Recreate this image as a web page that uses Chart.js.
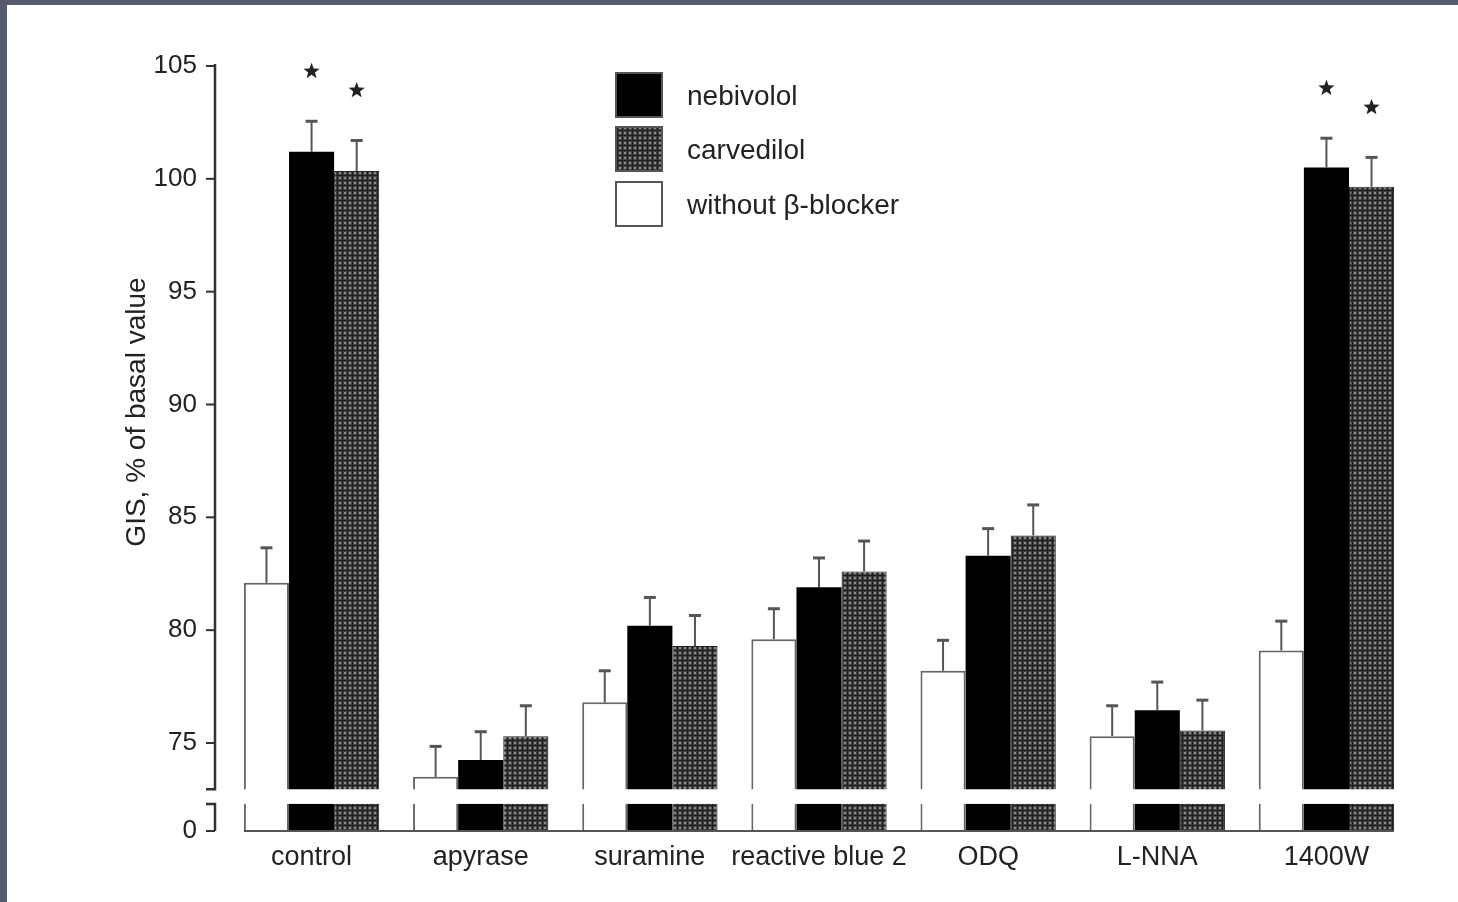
<!DOCTYPE html>
<html>
<head>
<meta charset="utf-8">
<script src="https://cdn.jsdelivr.net/npm/chart.js@4.4.1/dist/chart.umd.min.js"></script>
<style>
  html, body { margin: 0; padding: 0; background: #575a6b; overflow: hidden; }
  #wrap { position: absolute; left: 7px; top: 5px; width: 1451px; height: 897px; background: #fff; }
</style>
</head>
<body>
<div id="wrap"><canvas id="chart"></canvas></div>
<script>
const categories = ['control', 'apyrase', 'suramine', 'reactive blue 2', 'ODQ', 'L-NNA', '1400W'];

const withoutBB    = [82.1, 73.5, 76.8, 79.6, 78.2, 75.3, 79.1];
const withoutErr   = [1.55, 1.35, 1.4, 1.35, 1.35, 1.35, 1.3];
const nebivolol    = [101.2, 74.25, 80.2, 81.9, 83.3, 76.45, 100.5];
const nebivololErr = [1.35, 1.25, 1.25, 1.3, 1.2, 1.25, 1.3];
const carvedilol   = [100.35, 75.3, 79.3, 82.6, 84.2, 75.55, 99.65];
const carvedilolErr = [1.35, 1.35, 1.35, 1.35, 1.35, 1.35, 1.3];

// significance stars (vs. without beta-blocker)
const withoutSig    = [false, false, false, false, false, false, false];
const nebivololSig  = [true, false, false, false, false, false, true];
const carvedilolSig = [true, false, false, false, false, false, true];

const yTicks = [0, 75, 80, 85, 90, 95, 100, 105];

// broken axis: "0" is drawn at AXIS_ZERO, gap between BREAK_LOW and BREAK_HIGH
const AXIS_ZERO = 71.1;
const BREAK_LOW = 72.3;
const BREAK_HIGH = 72.95;

const FONT = 'Liberation Sans, Arial, sans-serif';
const TEXT = '#222';

// dotted fill for carvedilol
const tile = document.createElement('canvas');
tile.width = 5; tile.height = 5;
const tctx = tile.getContext('2d');
tctx.fillStyle = '#444';
tctx.fillRect(0, 0, 5, 5);
tctx.fillStyle = '#1e1e1e';
tctx.fillRect(0, 0, 5, 1);
tctx.fillRect(0, 0, 1, 5);
tctx.fillStyle = '#8a8a8a';
tctx.fillRect(2, 2, 2, 2);
const dots = tctx.createPattern(tile, 'repeat');

function drawStar(ctx, cx, cy, r) {
  ctx.beginPath();
  for (let k = 0; k < 10; k++) {
    const rad = k % 2 === 0 ? r : r * 0.42;
    const ang = -Math.PI / 2 + k * Math.PI / 5;
    const px = cx + rad * Math.cos(ang), py = cy + rad * Math.sin(ang);
    if (k === 0) ctx.moveTo(px, py); else ctx.lineTo(px, py);
  }
  ctx.closePath();
  ctx.fill();
}

const brokenAxis = {
  id: 'brokenAxis',
  afterDatasetsDraw(chart) {
    const { ctx, chartArea: a, scales: { y } } = chart;
    ctx.save();

    // error bars + stars
    chart.data.datasets.forEach((ds, di) => {
      const meta = chart.getDatasetMeta(di);
      meta.data.forEach((bar, i) => {
        const top = y.getPixelForValue(ds.data[i] + ds.err[i]);
        ctx.strokeStyle = '#555';
        ctx.lineWidth = 2;
        ctx.beginPath();
        ctx.moveTo(bar.x, bar.y);
        ctx.lineTo(bar.x, top);
        ctx.stroke();
        ctx.lineWidth = 3;
        ctx.beginPath();
        ctx.moveTo(bar.x - 6, top);
        ctx.lineTo(bar.x + 6, top);
        ctx.stroke();
        if (ds.sig[i]) {
          ctx.fillStyle = TEXT;
          drawStar(ctx, bar.x, top - 50, 8.5);
        }
      });
    });

    // axis break gap
    const yHi = y.getPixelForValue(BREAK_HIGH);
    const yLo = y.getPixelForValue(BREAK_LOW);
    ctx.fillStyle = '#fff';
    ctx.fillRect(a.left - 40, yHi, a.width + 40, yLo - yHi);

    // y axis line in two pieces
    const ax = a.left - 12;
    ctx.strokeStyle = '#333';
    ctx.lineWidth = 2.5;
    ctx.beginPath();
    ctx.moveTo(ax, y.getPixelForValue(105) - 2);
    ctx.lineTo(ax, yHi);
    ctx.lineTo(ax - 9, yHi);
    ctx.moveTo(ax - 9, yLo);
    ctx.lineTo(ax, yLo);
    ctx.lineTo(ax, a.bottom);
    ctx.stroke();
    ctx.lineWidth = 2;
    y.ticks.forEach(t => {
      const py = y.getPixelForValue(t.value);
      ctx.beginPath();
      ctx.moveTo(ax - 9, py);
      ctx.lineTo(ax, py);
      ctx.stroke();
    });

    // x baseline
    const first = chart.getDatasetMeta(0).data[0];
    const last = chart.getDatasetMeta(2).data[categories.length - 1];
    ctx.strokeStyle = '#555';
    ctx.lineWidth = 2;
    ctx.beginPath();
    ctx.moveTo(first.x - first.width / 2, a.bottom);
    ctx.lineTo(last.x + last.width / 2, a.bottom);
    ctx.stroke();

    ctx.restore();
  },
  afterDraw(chart) {
    const { ctx } = chart;
    ctx.save();

    // y axis title
    ctx.fillStyle = TEXT;
    ctx.font = '28px ' + FONT;
    ctx.textAlign = 'center';
    ctx.textBaseline = 'middle';
    ctx.translate(130, 407);
    ctx.rotate(-Math.PI / 2);
    ctx.fillText('GIS, % of basal value', 0, 0);
    ctx.setTransform(1, 0, 0, 1, 0, 0);

    // legend
    const order = [1, 2, 0];
    const boxTops = [67, 121, 176];
    order.forEach((di, k) => {
      const ds = chart.data.datasets[di];
      const bx = 608, by = boxTops[k], bw = 48, bh = 46;
      ctx.fillStyle = ds.backgroundColor;
      ctx.fillRect(bx, by, bw, bh);
      ctx.strokeStyle = '#555';
      ctx.lineWidth = 2;
      ctx.strokeRect(bx + 1, by + 1, bw - 2, bh - 2);
      ctx.fillStyle = TEXT;
      ctx.font = '28px ' + FONT;
      ctx.textAlign = 'left';
      ctx.textBaseline = 'middle';
      ctx.fillText(ds.label, 680, by + bh / 2 + 2);
    });
    ctx.restore();
  }
};

new Chart(document.getElementById('chart'), {
  type: 'bar',
  data: {
    labels: categories,
    datasets: [
      {
        label: 'without β-blocker',
        data: withoutBB,
        err: withoutErr,
        sig: withoutSig,
        backgroundColor: '#fff',
        borderColor: '#666',
        borderWidth: 2,
      },
      {
        label: 'nebivolol',
        data: nebivolol,
        err: nebivololErr,
        sig: nebivololSig,
        backgroundColor: '#000',
        borderWidth: 0,
      },
      {
        label: 'carvedilol',
        data: carvedilol,
        err: carvedilolErr,
        sig: carvedilolSig,
        backgroundColor: dots,
        borderColor: '#222',
        borderWidth: 1,
      },
    ],
  },
  options: {
    responsive: true,
    maintainAspectRatio: false,
    animation: false,
    layout: { padding: { top: 61, right: 47, bottom: 0, left: 0 } },
    datasets: { bar: { categoryPercentage: 0.8, barPercentage: 1, borderSkipped: 'start' } },
    plugins: { legend: { display: false }, tooltip: { enabled: false } },
    scales: {
      x: {
        grid: { display: false, drawTicks: false },
        border: { display: false },
        ticks: { color: TEXT, font: { family: FONT, size: 27 }, padding: 10, maxRotation: 0, autoSkip: false },
        afterFit: s => { s.height = 71; },
      },
      y: {
        min: AXIS_ZERO,
        max: 105,
        grid: { display: false, drawTicks: false },
        border: { display: false },
        afterBuildTicks: s => { s.ticks = yTicks.map(v => ({ value: v === 0 ? AXIS_ZERO : v })); },
        ticks: {
          color: TEXT,
          font: { family: FONT, size: 26 },
          padding: 30,
          autoSkip: false,
          callback: v => (v === AXIS_ZERO ? '0' : v),
        },
        afterFit: s => { s.width = 220; },
      },
    },
  },
  plugins: [brokenAxis],
});
</script>
</body>
</html>
